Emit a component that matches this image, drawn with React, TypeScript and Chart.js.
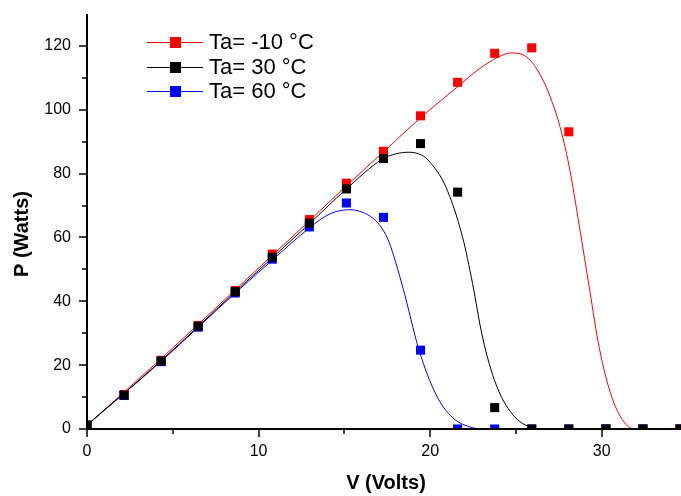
import React, { useEffect, useRef } from "react";
import { Chart, registerables } from "chart.js";

Chart.register(...registerables);

// ---- data ----
const seriesLabels = ["Ta= -10 °C", "Ta= 30 °C", "Ta= 60 °C"];
const seriesColors = ["#ff0000", "#000000", "#0000ff"];

const voltage = [0, 2.16, 4.32, 6.48, 8.64, 10.8, 12.96, 15.12, 17.28, 19.44, 21.6, 23.76, 25.92, 28.08, 30.24, 32.4, 34.56];
const powerM10 = [1.2, 10.8, 21.5, 32.4, 43.4, 54.8, 65.6, 77.0, 87.0, 98.1, 108.6, 117.7, 119.4, 93.1, 0, 0, 0];
const power30 = [1.2, 10.6, 21.3, 32.2, 43.0, 53.8, 64.5, 75.2, 84.7, 89.4, 74.2, 6.7, 0, 0, 0, 0, 0];
const power60 = [1.2, 10.5, 21.1, 31.9, 42.6, 53.2, 63.3, 70.8, 66.3, 24.7, 0, 0, 0, 0, 0, 0, 0];

// fitted curves
const fitM10V = [0, 4.32, 8.64, 12.96, 15.12, 17.28, 19.44, 21.6, 22.86, 24.0, 24.7, 25.5, 26.36, 27.0, 27.5, 28.1, 28.7, 29.3, 29.85, 30.6, 31.4, 32.0, 34.62];
const fitM10P = [1.2, 22.0, 43.6, 65.2, 76.2, 86.8, 97.5, 107.2, 112.8, 116.6, 117.8, 117.0, 111.5, 104, 96, 82.3, 63.4, 43.5, 25.6, 9.8, 1.5, 0, 0];
const fit30V = [0, 4.32, 8.64, 12.96, 15.08, 17.2, 18.0, 18.78, 19.5, 19.94, 20.9, 21.88, 22.47, 23.05, 23.83, 24.8, 25.97, 26.8, 34.62];
const fit30P = [1.2, 21.4, 43.0, 64.3, 75.0, 84.5, 86.2, 86.7, 85.8, 83.9, 76, 60.3, 45.6, 28.8, 14.1, 4.6, 0.4, 0, 0];
const fit60V = [0, 4.32, 8.64, 10.74, 12.78, 13.95, 14.6, 15.3, 16.0, 16.67, 17.2, 17.6, 18.4, 19.36, 20.33, 21.3, 22.47, 23.2, 34.62];
const fit60P = [1.2, 21.2, 42.6, 52.6, 62.2, 66.8, 68.2, 68.7, 68.0, 66.0, 62.8, 58.6, 44.5, 24.6, 10.9, 3.6, 0.4, 0, 0];

const xMajorTicks = [0, 10, 20, 30];
const xMinorTicks = [5, 15, 25];
const yMajorTicks = [0, 20, 40, 60, 80, 100, 120];
const yMinorTicks = [10, 30, 50, 70, 90, 110];
const xTitle = "V (Volts)";
const yTitle = "P (Watts)";

const FONT = "Arial, 'Liberation Sans', sans-serif";

const pts = (xs: number[], ys: number[]) => xs.map((v, i) => ({ x: v, y: ys[i] }));

const axesPlugin = {
  id: "originAxes",
  afterDatasetsDraw(chart: any) {
    const { ctx, chartArea: a, scales } = chart;
    const x = scales.x;
    const y = scales.y;
    ctx.save();
    ctx.strokeStyle = "#000";
    ctx.lineWidth = 2;
    ctx.beginPath();
    ctx.moveTo(a.left, a.top);
    ctx.lineTo(a.left, a.bottom + 1);
    ctx.moveTo(a.left - 1, a.bottom);
    ctx.lineTo(a.right, a.bottom);
    ctx.stroke();
    ctx.lineWidth = 1.5;
    ctx.beginPath();
    yMajorTicks.forEach((v) => {
      const p = Math.round(y.getPixelForValue(v));
      ctx.moveTo(a.left - 8, p);
      ctx.lineTo(a.left, p);
    });
    yMinorTicks.forEach((v) => {
      const p = Math.round(y.getPixelForValue(v));
      ctx.moveTo(a.left - 5, p);
      ctx.lineTo(a.left, p);
    });
    xMajorTicks.forEach((v) => {
      const p = Math.round(x.getPixelForValue(v));
      ctx.moveTo(p, a.bottom);
      ctx.lineTo(p, a.bottom + 8);
    });
    xMinorTicks.forEach((v) => {
      const p = Math.round(x.getPixelForValue(v));
      ctx.moveTo(p, a.bottom);
      ctx.lineTo(p, a.bottom + 5);
    });
    ctx.stroke();
    ctx.restore();
  },
  afterDraw(chart: any) {
    const { ctx, chartArea: a } = chart;
    ctx.save();
    ctx.fillStyle = "#000";
    ctx.font = `bold 20px ${FONT}`;
    ctx.textAlign = "center";
    ctx.textBaseline = "middle";
    ctx.fillText(xTitle, (a.left + a.right) / 2 + 2, 483);
    ctx.translate(22, 234);
    ctx.rotate(-Math.PI / 2);
    ctx.fillText(yTitle, 0, 0);
    ctx.restore();

    // legend
    ctx.save();
    ctx.font = `22px ${FONT}`;
    ctx.textAlign = "left";
    ctx.textBaseline = "middle";
    seriesLabels.forEach((label, i) => {
      const cy = 42 + i * 24.7;
      ctx.strokeStyle = seriesColors[i];
      ctx.lineWidth = 1;
      ctx.beginPath();
      ctx.moveTo(147, Math.round(cy) + 0.5);
      ctx.lineTo(203, Math.round(cy) + 0.5);
      ctx.stroke();
      ctx.fillStyle = seriesColors[i];
      ctx.fillRect(170, Math.round(cy) - 5, 11, 11);
      ctx.fillStyle = "#000";
      ctx.fillText(label, 209, cy + 1);
    });
    ctx.restore();
  },
};

export default function App() {
  const ref = useRef<HTMLCanvasElement>(null);
  useEffect(() => {
    const pointDs = (label: string, ys: number[], color: string, order: number) => ({
      type: "scatter" as const,
      label,
      data: pts(voltage, ys),
      showLine: false,
      pointStyle: "rect" as const,
      pointRadius: 6.4,
      pointBorderWidth: 0,
      backgroundColor: color,
      borderColor: color,
      clip: 0,
      order,
    });
    const fitDs = (label: string, xs: number[], ys: number[], color: string, order: number) => ({
      type: "scatter" as const,
      label,
      data: pts(xs, ys),
      showLine: true,
      pointRadius: 0,
      borderWidth: 1,
      borderColor: color,
      backgroundColor: color,
      cubicInterpolationMode: "monotone" as const,
      clip: 0,
      order,
    });
    const chart = new Chart(ref.current!, {
      type: "scatter",
      data: {
        datasets: [
          fitDs("fit -10", fitM10V, fitM10P, seriesColors[0], 12),
          fitDs("fit 60", fit60V, fit60P, seriesColors[2], 11),
          fitDs("fit 30", fit30V, fit30P, seriesColors[1], 10),
          pointDs(seriesLabels[0], powerM10, seriesColors[0], 3),
          pointDs(seriesLabels[2], power60, seriesColors[2], 2),
          pointDs(seriesLabels[1], power30, seriesColors[1], 1),
        ] as any,
      },
      options: {
        animation: false,
        responsive: false,
        devicePixelRatio: 1,
        layout: { autoPadding: false, padding: { top: 14, right: 0, left: 0, bottom: 0 } },
        plugins: { legend: { display: false }, tooltip: { enabled: false } },
        scales: {
          x: {
            type: "linear",
            min: 0,
            max: 34.62,
            grid: { display: false, drawTicks: false },
            border: { display: false },
            ticks: { padding: 13, color: "#000", font: { family: FONT, size: 16 } },
            afterBuildTicks: (s: any) => {
              s.ticks = xMajorTicks.map((v) => ({ value: v }));
            },
            afterFit: (s: any) => {
              s.height = 67;
              s.paddingLeft = 0;
              s.paddingRight = 0;
              s.paddingTop = 0;
              s.paddingBottom = 0;
            },
          },
          y: {
            type: "linear",
            min: 0,
            max: 130,
            grid: { display: false, drawTicks: false },
            border: { display: false },
            ticks: { padding: 16, color: "#000", font: { family: FONT, size: 16 } },
            afterBuildTicks: (s: any) => {
              s.ticks = yMajorTicks.map((v) => ({ value: v }));
            },
            afterFit: (s: any) => {
              s.width = 87;
              s.paddingLeft = 0;
              s.paddingRight = 0;
              s.paddingTop = 0;
              s.paddingBottom = 0;
            },
          },
        },
      },
      plugins: [axesPlugin],
    });
    return () => chart.destroy();
  }, []);
  return (
    <div style={{ position: "absolute", left: 0, top: 0, width: 681, height: 496, background: "#fff" }}>
      <canvas ref={ref} width={681} height={496} style={{ display: "block", width: 681, height: 496 }} />
    </div>
  );
}
